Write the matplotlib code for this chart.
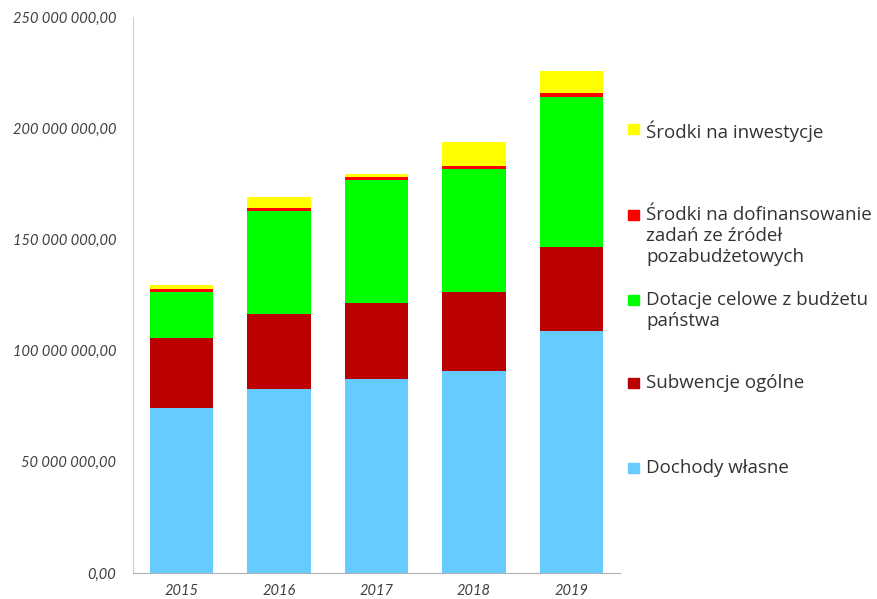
import matplotlib
matplotlib.use("Agg")
import matplotlib.pyplot as plt
from matplotlib.patches import Rectangle
from matplotlib.ticker import FuncFormatter
import numpy as np

# values in millions PLN
years = ["2015", "2016", "2017", "2018", "2019"]
dochody_wlasne = [74.2, 82.7, 87.2, 91.0, 108.8]
subwencje = [31.6, 33.8, 34.2, 35.2, 37.9]
dotacje = [20.7, 46.4, 55.2, 55.5, 67.5]
dofinansowanie = [1.1, 1.4, 1.3, 1.3, 1.8]
inwestycje = [1.8, 4.8, 1.6, 10.7, 9.6]

series_labels = [
    "Dochody własne",
    "Subwencje ogólne",
    "Dotacje celowe z budżetu\npaństwa",
    "Środki na dofinansowanie\nzadań ze źródeł\npozabudżetowych",
    "Środki na inwestycje",
]
colors = ["#66CCFF", "#BB0000", "#00FF00", "#FF0000", "#FFFF00"]

FONT = "Lato"
LEG_FONT = "Open Sans"

fig = plt.figure(figsize=(8.77, 5.99), dpi=100)
ax = fig.add_axes([133 / 877, 1 - 573 / 599, (620 - 133) / 877, (573 - 17) / 599])

x = np.arange(len(years))
bottom = np.zeros(len(years))
for vals, col in zip([dochody_wlasne, subwencje, dotacje, dofinansowanie, inwestycje], colors):
    v = np.array(vals) * 1e6
    ax.bar(x, v, width=0.65, bottom=bottom, color=col, linewidth=0)
    bottom += v

ax.set_xlim(-0.5, len(years) - 0.5)
ax.set_ylim(0, 250e6)
ax.set_yticks(np.arange(0, 250e6 + 1, 50e6))
ax.yaxis.set_major_formatter(FuncFormatter(
    lambda v, p: "0,00" if v == 0 else f"{int(v):,}".replace(",", " ") + ",00"))
ax.set_xticks(x)
ax.set_xticklabels(years)
ax.tick_params(length=0, pad=8)
for lab in ax.get_yticklabels() + ax.get_xticklabels():
    lab.set_fontfamily(FONT)
    lab.set_fontstyle("italic")
    lab.set_fontsize(10.5)
    lab.set_color("#404040")
for lab in ax.get_yticklabels():
    lab.set_x(-0.012)

for s in ["top", "right"]:
    ax.spines[s].set_visible(False)
ax.spines["left"].set_color("#D0D0D0")
ax.spines["bottom"].set_color("#B0B0B0")

# legend, placed like the Excel original (reversed order)
legend_y = [468, 383, 300, 215, 129]  # pixel centre of each entry's first line
for lab, col, yp in zip(series_labels, colors, legend_y):
    yf = 1 - yp / 599
    fig.patches.append(Rectangle((628 / 877, yf - 5 / 599), 11 / 877, 10 / 599,
                                 transform=fig.transFigure, color=col))
    fig.text(646 / 877, 1 - (yp - 9) / 599, lab, fontfamily=LEG_FONT, fontsize=13.5,
             color="#333333", va="top", ha="left", linespacing=1.2)

fig.savefig("out.png", dpi=100)
